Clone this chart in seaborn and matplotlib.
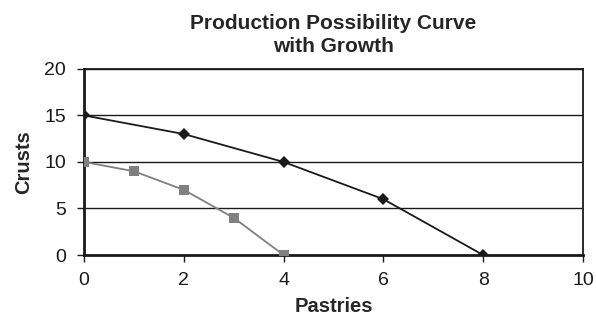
import pandas as pd
import seaborn as sns
import matplotlib.pyplot as plt

# data
pastries_growth = [0, 2, 4, 6, 8]
crusts_growth = [15, 13, 10, 6, 0]
pastries_orig = [0, 1, 2, 3, 4]
crusts_orig = [10, 9, 7, 4, 0]
x_ticks = [0, 2, 4, 6, 8, 10]
y_ticks = [0, 5, 10, 15, 20]

df = pd.concat([
    pd.DataFrame({'Pastries': pastries_growth, 'Crusts': crusts_growth, 'curve': 'growth'}),
    pd.DataFrame({'Pastries': pastries_orig, 'Crusts': crusts_orig, 'curve': 'original'}),
])

sns.set_style('white')
plt.rcParams['font.family'] = ['Liberation Sans', 'DejaVu Sans']

fig = plt.figure(figsize=(5.96, 3.16), dpi=100)
ax = fig.add_axes([0.141, 0.193, 0.837, 0.589])

# horizontal gridlines
for y in y_ticks[1:]:
    ax.axhline(y, color='#1a1a1a', lw=1.0, zorder=0)

sns.lineplot(data=df[df['curve'] == 'original'], x='Pastries', y='Crusts', ax=ax,
             color='#808080', lw=1.3, marker='s', markersize=7.5, markeredgewidth=0,
             zorder=3)
sns.lineplot(data=df[df['curve'] == 'growth'], x='Pastries', y='Crusts', ax=ax,
             color='#1a1a1a', lw=1.3, marker='D', markersize=6.5, markeredgewidth=0,
             zorder=4)

ax.set_xlim(0, 10)
ax.set_ylim(0, 20)
ax.set_xticks(x_ticks)
ax.set_yticks(y_ticks)
ax.tick_params(axis='both', labelsize=14, colors='#1a1a1a', direction='out',
               length=5, width=1.0, bottom=True, left=True)
ax.tick_params(axis='x', pad=7)
ax.tick_params(axis='y', pad=8)
ax.set_xlabel('Pastries', fontsize=14.5, fontweight='bold', labelpad=6)
ax.set_ylabel('Crusts', fontsize=14.5, fontweight='bold', labelpad=8)
ax.set_title('Production Possibility Curve\nwith Growth', fontsize=15,
             fontweight='bold', linespacing=1.25, pad=12)

for side in ['left', 'bottom']:
    ax.spines[side].set_linewidth(2.0)
for side in ['top', 'right']:
    ax.spines[side].set_linewidth(1.3)
for s in ax.spines.values():
    s.set_color('#1a1a1a')

fig.savefig('out.png', dpi=100)
